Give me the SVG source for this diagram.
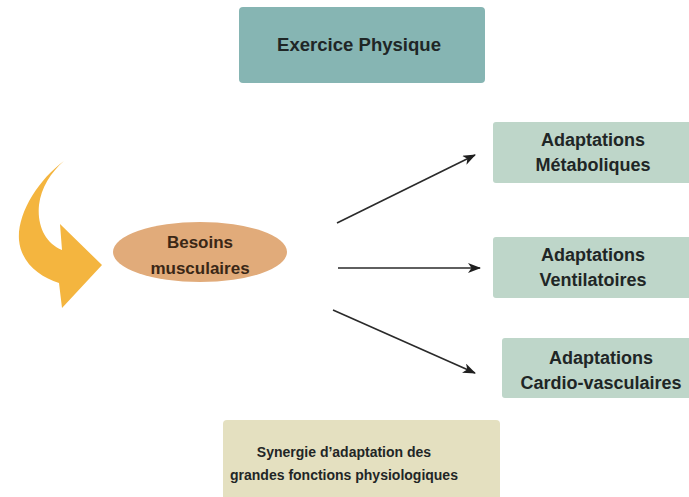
<svg xmlns="http://www.w3.org/2000/svg" width="689" height="497" viewBox="0 0 689 497">
<style>
.t{font-family:"Liberation Sans",Arial,sans-serif;font-weight:bold;fill:#1f2626;text-anchor:middle}
.big{font-size:18px}
.mid{font-size:17px}
.small{font-size:14px}
.brown{fill:#3a2716}
.con{stroke:#2a2a2a;stroke-width:1.6;fill:none;marker-end:url(#ah)}
</style>
<defs>
<marker id="ah" markerWidth="14" markerHeight="12" refX="12" refY="5" orient="auto" markerUnits="userSpaceOnUse">
<path d="M0,0 L13,5 L0,10 L3.5,5 Z" fill="#1f1f1f"/>
</marker>
</defs>
<rect width="689" height="497" fill="#ffffff"/>
<g id="exercice">
<rect x="239" y="7" width="246" height="76" rx="4" fill="#86b5b3"/>
<text class="t big" x="359" y="51" textLength="164" lengthAdjust="spacingAndGlyphs">Exercice Physique</text>
</g>
<g id="fleche-courbe">
<path d="M64,161 C38,180 17,214 19,240 C21,263 40,277 59,283 L62,308 L102,265 L60,224 L62,250 C45,243 37,225 39,205 C41,188 51,172 64,161 Z" fill="#f4b53f"/>
</g>
<g id="besoins">
<ellipse cx="200" cy="252" rx="87" ry="30" fill="#e1ab7a"/>
<text class="t mid brown" x="200" y="248">Besoins</text>
<text class="t mid brown" x="200" y="274">musculaires</text>
</g>
<g id="metaboliques">
<rect x="493" y="122" width="220" height="61" rx="3" fill="#bed6c9"/>
<text class="t big" x="593" y="146">Adaptations</text>
<text class="t big" x="593" y="171">Métaboliques</text>
</g>
<g id="ventilatoires">
<rect x="493" y="237" width="220" height="61" rx="3" fill="#bed6c9"/>
<text class="t big" x="593" y="261">Adaptations</text>
<text class="t big" x="593" y="286">Ventilatoires</text>
</g>
<g id="cardio">
<rect x="502" y="338" width="220" height="60" rx="3" fill="#bed6c9"/>
<text class="t big" x="601" y="364">Adaptations</text>
<text class="t big" x="601" y="389">Cardio-vasculaires</text>
</g>
<g id="synergie">
<rect x="223" y="420" width="277" height="90" rx="4" fill="#e4e0c0"/>
<text class="t small" x="344" y="457">Synergie d’adaptation des</text>
<text class="t small" x="344" y="480">grandes fonctions physiologiques</text>
</g>
<g id="connecteurs">
<line class="con" x1="337" y1="223" x2="475" y2="155"/>
<line class="con" x1="338" y1="268" x2="480" y2="268"/>
<line class="con" x1="333" y1="310" x2="475" y2="373"/>
</g>
</svg>
